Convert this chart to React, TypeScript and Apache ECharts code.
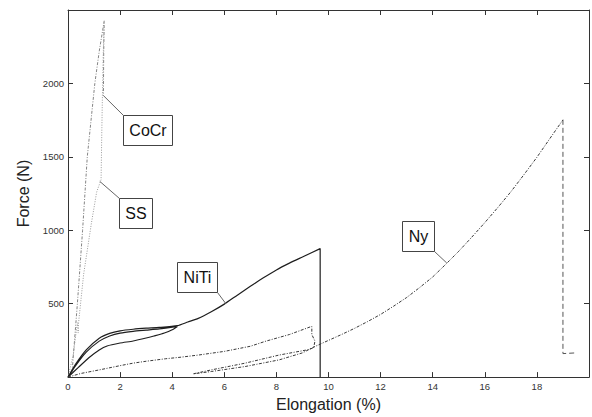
import React, { useEffect, useRef } from "react";
import * as echarts from "echarts";

// ---------- data (Elongation %, Force N) ----------
const xTickValues = [0, 2, 4, 6, 8, 10, 12, 14, 16, 18];
const yTickValues = [500, 1000, 1500, 2000];

const cocrCurve: number[][] = [
  [0, 0], [0.15, 20], [0.36, 500], [0.56, 1000], [0.74, 1500], [1.03, 2000],
  [1.2, 2220], [1.39, 2426], [1.37, 2200], [1.36, 1930],
];

const ssCurve: number[][] = [
  [0, 0], [0.2, 150], [0.33, 330], [0.37, 370], [0.39, 300], [0.4, 360],
  [0.6, 700], [0.9, 1050], [1.1, 1260], [1.27, 1345], [1.3, 1700], [1.34, 2100], [1.38, 2380],
];

const nitiCurve: number[][] = [
  // first loading
  [0, 0], [0.3, 80], [0.7, 170], [1.2, 245], [1.6, 280], [2, 300], [2.5, 312], [3, 320], [3.5, 328], [4.2, 345],
  // unloading
  [4.0, 322], [3.7, 300], [3.3, 280], [3, 266], [2.5, 246], [2, 232], [1.5, 212], [1.2, 185], [0.8, 132], [0.4, 66], [0, 0],
  // reloading to failure
  [0.3, 90], [0.7, 185], [1.2, 265], [1.6, 298], [2, 315], [2.5, 326], [3, 333], [3.5, 338], [4.2, 350],
  [4.6, 375], [5, 400], [5.5, 445], [6, 497], [6.5, 558], [7, 618], [7.5, 676], [8, 730], [8.5, 776], [9, 818],
  [9.68, 875], [9.68, 0],
];

const nyCurve: number[][] = [
  // first loading
  [0, 0], [0.5, 25], [1.2, 49], [2, 78], [2.5, 95], [3, 108], [3.75, 125], [4.3, 135], [5, 150], [6, 175],
  [7, 210], [7.6, 245], [8.5, 290], [9.3, 342], [9.36, 345], [9.36, 290], [9.48, 245], [9.43, 200],
  // unloading
  [9.2, 186], [8.1, 150], [6.8, 95], [5.5, 49], [4.8, 22],
  // reloading to failure
  [5.5, 38], [6.8, 72], [8.1, 117], [9, 165], [9.5, 210], [10, 250], [10.5, 290], [11, 332], [11.5, 378],
  [12, 427], [12.5, 483], [13, 542], [13.5, 610], [14, 682], [14.5, 768], [15, 857], [15.5, 953], [16, 1052],
  [16.5, 1155], [17, 1262], [17.5, 1378], [18, 1497], [18.5, 1625], [19, 1752],
];

const nyBreak: number[][] = [
  [19, 1752], [19, 160], [19.5, 165],
];

const labelNames = ["CoCr", "SS", "NiTi", "Ny"];
const labelAnchors: number[][] = [[1.35, 1919], [1.22, 1333], [6.06, 500], [14.54, 777]];
const labelCenters: number[][] = [[3.06, 1684], [2.58, 1117], [4.94, 679], [13.44, 959]];

// ---------- layout / style ----------
const W = 592;
const H = 417;
const FONT = "'Liberation Sans', Arial, Helvetica, sans-serif";
const AXIS = "#333";
const BOX_PAD_X = 6;
const BOX_H = 30;

export default function App() {
  const ref = useRef<HTMLDivElement>(null);

  useEffect(() => {
    const el = ref.current;
    if (!el) return;
    const chart = echarts.init(el, null, { renderer: "svg" });

    const lineStyleAxis = { color: AXIS, width: 1 };
    const xFmt = (v: number) => (xTickValues.includes(v) ? String(v) : "");
    const yFmt = (v: number) => (yTickValues.includes(v) ? String(v) : "");

    const option: any = {
      animation: false,
      backgroundColor: "#ffffff",
      textStyle: { fontFamily: FONT },
      grid: { left: 68, top: 10, right: -1, bottom: 38, containLabel: false },
      xAxis: [
        {
          type: "value", min: 0, max: 20, interval: 2, position: "bottom",
          axisLine: { show: true, onZero: false, lineStyle: lineStyleAxis },
          axisTick: { show: true, inside: true, length: 5, lineStyle: lineStyleAxis },
          splitLine: { show: false },
          axisLabel: { formatter: xFmt, fontSize: 9.5, color: "#333", margin: 4, fontFamily: FONT },
          name: "Elongation (%)", nameLocation: "middle", nameGap: 17,
          nameTextStyle: { fontSize: 16, color: "#222", fontFamily: FONT },
        },
        {
          type: "value", min: 0, max: 20, interval: 2, position: "top",
          axisLine: { show: true, onZero: false, lineStyle: lineStyleAxis },
          axisTick: { show: true, inside: true, length: 5, lineStyle: lineStyleAxis },
          splitLine: { show: false }, axisLabel: { show: false },
        },
      ],
      yAxis: [
        {
          type: "value", min: 0, max: 2500, interval: 500, position: "left",
          axisLine: { show: true, onZero: false, lineStyle: lineStyleAxis },
          axisTick: { show: true, inside: true, length: 5, lineStyle: lineStyleAxis },
          splitLine: { show: false },
          axisLabel: { formatter: yFmt, fontSize: 9.5, color: "#333", margin: 4, fontFamily: FONT },
          name: "Force (N)", nameLocation: "middle", nameGap: 34, nameRotate: 90,
          nameTextStyle: { fontSize: 16, color: "#222", fontFamily: FONT },
        },
        {
          type: "value", min: 0, max: 2500, interval: 500, position: "right",
          axisLine: { show: true, onZero: false, lineStyle: lineStyleAxis },
          axisTick: { show: true, inside: true, length: 5, lineStyle: lineStyleAxis },
          splitLine: { show: false }, axisLabel: { show: false },
        },
      ],
      series: [
        {
          name: "CoCr", type: "line", data: cocrCurve, showSymbol: false,
          lineStyle: { color: "#858585", width: 1, type: [3, 1.5, 1, 1.5] },
        },
        {
          name: "SS", type: "line", data: ssCurve, showSymbol: false,
          lineStyle: { color: "#9a9a9a", width: 1, type: [1, 1.5] },
        },
        {
          name: "NiTi", type: "line", data: nitiCurve, showSymbol: false, smooth: 0.2,
          lineStyle: { color: "#1e1e1e", width: 1.2, type: "solid" },
        },
        {
          name: "Ny", type: "line", data: nyCurve, showSymbol: false,
          lineStyle: { color: "#383838", width: 1, type: [3, 1.5, 1, 1.5] },
        },
        {
          name: "Ny break", type: "line", data: nyBreak, showSymbol: false,
          lineStyle: { color: "#555", width: 1, type: [5, 3] },
        },
      ],
    };
    chart.setOption(option);

    // label boxes with leader lines, placed in data coordinates
    const canvas = document.createElement("canvas");
    const ctx = canvas.getContext("2d");
    if (ctx) ctx.font = `16px ${FONT}`;
    const graphics: any[] = [];
    labelNames.forEach((name, i) => {
      const a = chart.convertToPixel({ gridIndex: 0 }, labelAnchors[i]) as number[];
      const c = chart.convertToPixel({ gridIndex: 0 }, labelCenters[i]) as number[];
      const tw = ctx ? ctx.measureText(name).width : name.length * 9;
      const bw = Math.round(tw + 2 * BOX_PAD_X);
      const bh = BOX_H;
      const bx = Math.round(c[0] - bw / 2) + 0.5;
      const by = Math.round(c[1] - bh / 2) + 0.5;
      const cx = a[0] < c[0] ? bx : bx + bw;
      const cy = a[1] < c[1] ? by : by + bh;
      graphics.push({
        type: "line", z: 10,
        shape: { x1: a[0], y1: a[1], x2: cx, y2: cy },
        style: { stroke: "#666", lineWidth: 1 },
      });
      graphics.push({
        type: "rect", z: 11,
        shape: { x: bx, y: by, width: bw, height: bh },
        style: { fill: "#fff", stroke: "#444", lineWidth: 1 },
      });
      graphics.push({
        type: "text", z: 12,
        x: bx + bw / 2, y: by + bh / 2,
        style: {
          text: name, fill: "#111", font: `16px ${FONT}`,
          align: "center", verticalAlign: "middle",
        },
      });
    });
    chart.setOption({ graphic: graphics });

    return () => {
      chart.dispose();
    };
  }, []);

  return (
    <div
      ref={ref}
      style={{ position: "fixed", left: 0, top: 0, width: W, height: H, background: "#fff" }}
    />
  );
}
